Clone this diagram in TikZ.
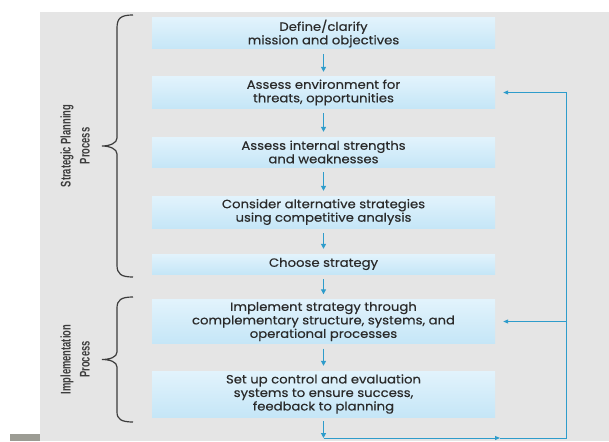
\documentclass[tikz,border=0pt]{standalone}
\usepackage{fontspec}
\setmainfont{Poppins}[FakeStretch=1.1, FakeBold=0.4]
\setsansfont{Liberation Sans}
\usetikzlibrary{arrows.meta}
\definecolor{bg}{HTML}{E5E5E5}
\definecolor{arrowblue}{HTML}{2E9CCB}
\definecolor{boxtop}{HTML}{E2F3FC}
\definecolor{boxbot}{HTML}{C5E6F7}
\definecolor{txt}{HTML}{2A2A2A}
\definecolor{bracecol}{HTML}{3C3C3C}
\definecolor{barcol}{HTML}{9C9C94}
\begin{document}
\begin{tikzpicture}[x=1pt,y=-1pt,
  stepbox/.style={minimum width=343pt, inner sep=0pt, top color=boxtop, bottom color=boxbot,
    text=txt, font=\fontsize{12}{13.5}\selectfont, align=center},
  flow/.style={draw=arrowblue, line width=1.1pt, -{Triangle[length=5pt,width=5pt]}},
  fb/.style={draw=arrowblue, line width=1pt},
  fbarrow/.style={draw=arrowblue, line width=1pt, -{Triangle[length=5pt,width=4pt]}},
  bracestyle/.style={draw=bracecol, line width=1.2pt},
  side/.style={rotate=90, xscale=0.67, font=\sffamily\bfseries\fontsize{14}{19}\selectfont,
    text=bracecol, align=center}]
\useasboundingbox (0,0) rectangle (609,441);
\fill[white] (0,0) rectangle (609,441);
\fill[bg] (40,12) rectangle (609,441);
\fill[barcol] (10,434) rectangle (40,441);

\node[stepbox, minimum height=31pt] (b1) at (323.5,33.5) {Define/clarify\\mission and objectives};
\node[stepbox, minimum height=31pt] (b2) at (323.5,92.5) {Assess environment for\\threats, opportunities};
\node[stepbox, minimum height=30pt] (b3) at (323.5,152) {Assess internal strengths\\and weaknesses};
\node[stepbox, minimum height=32pt] (b4) at (323.5,212) {Consider alternative strategies\\using competitive analysis};
\node[stepbox, minimum height=20pt] (b5) at (323.5,264) {Choose strategy};
\node[stepbox, minimum height=44pt] (b6) at (323.5,321.5) {Implement strategy through\\complementary structure, systems, and\\operational processes};
\node[stepbox, minimum height=46pt] (b7) at (323.5,394) {Set up control and evaluation\\systems to ensure success,\\feedback to planning};

\draw[flow] ([yshift=-5pt]b1.south) -- ([yshift=5pt]b2.north);
\draw[flow] ([yshift=-5pt]b2.south) -- ([yshift=5pt]b3.north);
\draw[flow] ([yshift=-5pt]b3.south) -- ([yshift=5pt]b4.north);
\draw[flow] ([yshift=-5pt]b4.south) -- ([yshift=5pt]b5.north);
\draw[flow] ([yshift=-5pt]b5.south) -- ([yshift=5pt]b6.north);
\draw[flow] ([yshift=-5pt]b6.south) -- ([yshift=5pt]b7.north);

\coordinate (c0) at (323.5,438);
\coordinate (cm) at (500,438);
\coordinate (c1) at (566,438);
\coordinate (c2) at (566,92.5);
\coordinate (c3) at (566,321.5);
\draw[flow] ([yshift=-4pt]b7.south) -- (c0);
\draw[fbarrow] (c0) -- (cm);
\draw[fb] (cm) -- (c1) -- (c2);
\draw[fbarrow] (c2) -- ([xshift=8pt]b2.east);
\draw[fbarrow] (c3) -- ([xshift=8pt]b6.east);

% upper brace
\draw[bracestyle] (133,15) .. controls (121,15) and (117,18) .. (117,28) -- (117,138)
  .. controls (117,143) and (110,146) .. (102,146)
  .. controls (110,146) and (117,149) .. (117,154) -- (117,265)
  .. controls (117,274) and (121,277) .. (133,277);
% lower brace
\draw[bracestyle] (133,297) .. controls (121,297) and (117,300) .. (117,308) -- (117,352)
  .. controls (117,357) and (110,359.5) .. (102,359.5)
  .. controls (110,359.5) and (117,362) .. (117,367) -- (117,412)
  .. controls (117,419) and (121,422) .. (133,422);

\node[side] (l1) at (75,146) {Strategic Planning\\Process};
\node[side] (l2) at (75,359.5) {Implementation\\Process};
\end{tikzpicture}
\end{document}
